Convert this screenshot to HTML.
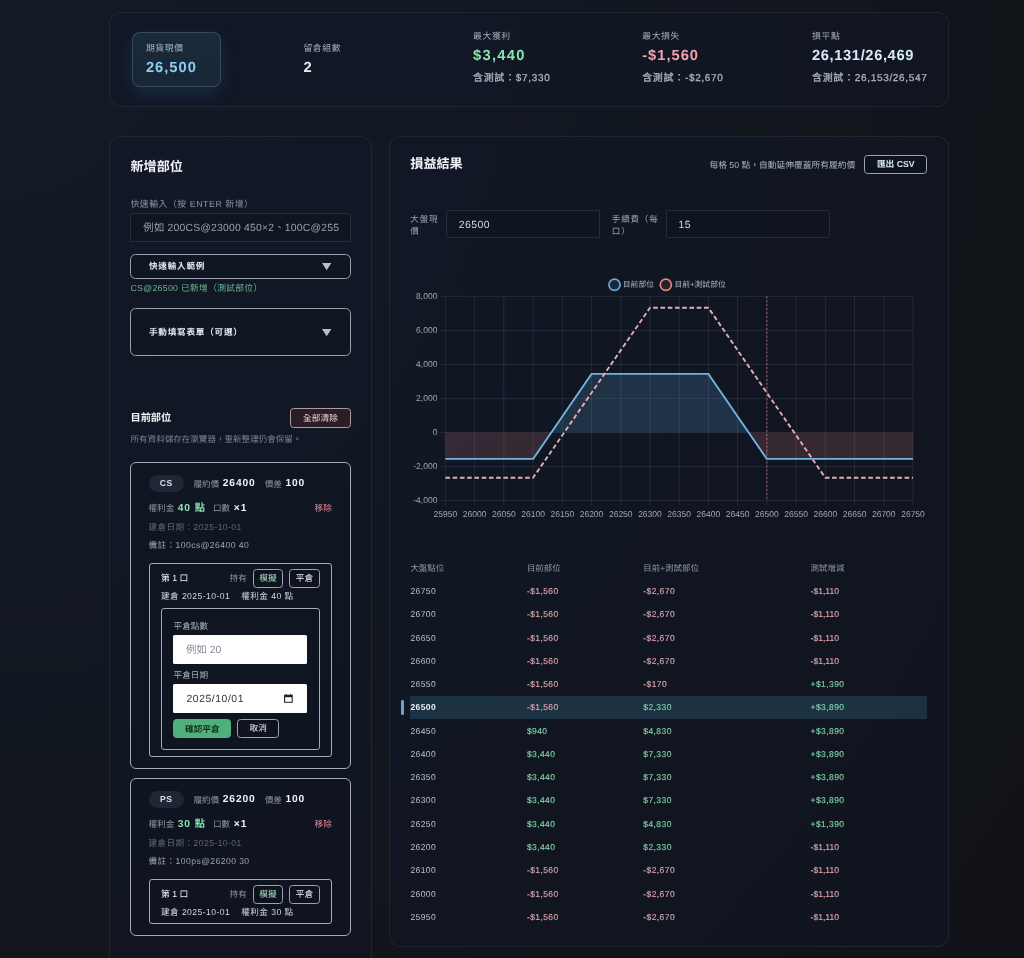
<!DOCTYPE html>
<html lang="zh-Hant"><head><meta charset="utf-8"><title>選擇權損益試算</title>
<style>
*{box-sizing:border-box;margin:0;padding:0}
html,body{width:1024px;height:958px;overflow:hidden}
body{font-family:"Liberation Sans","Noto Sans CJK TC",sans-serif;color:#e6ebf2;background:#101217;text-rendering:geometricPrecision;
 background-image:radial-gradient(ellipse 1300px 1500px at 0% 0%,#151b26 0%,#121822 38%,#111419 80%,#101217 100%)}
#page{position:absolute;left:0;top:0;width:1024px;height:958px;overflow:hidden;will-change:transform}
.b{position:absolute}
.t{position:absolute;white-space:nowrap}
.panel{background:rgba(15,22,37,0.5);border:1px solid rgba(148,163,184,0.115);border-radius:12px}
.hl{border-radius:8px;border:1px solid rgba(120,170,215,0.27);background:linear-gradient(180deg,#1b2a3a,#182636);box-shadow:0 6px 18px rgba(45,95,160,0.28)}
.lab{font-size:8.85px;color:#a3abb8;letter-spacing:0.6px}
.val{font-size:14.7px;font-weight:bold;letter-spacing:1.0px;height:20px!important;line-height:20px!important;margin-top:-3px}
.sub{font-size:10px;color:#a9b1bd;letter-spacing:0.68px;-webkit-text-stroke:0.3px}
.h2{font-size:13.1px;color:#f1f4f8;font-weight:bold}
.h3{font-size:10.2px;color:#f1f4f8;font-weight:bold}
.flab{font-size:8.9px;color:#8d96a5;letter-spacing:0.5px}
.flab2{font-size:8.5px;color:#9aa3b0;letter-spacing:0.85px}
.inp{border:1px solid rgba(150,165,190,0.17);border-radius:2px;background:rgba(14,19,29,0.35)}
.ph{font-size:10.4px;color:#99a0ac;letter-spacing:0.2px}
.ival{font-size:10.4px;color:#d5dae3;letter-spacing:0.5px}
.sel{border:1px solid #9aa2b0;border-radius:5.5px;background:rgba(12,17,26,0.15)}
.sell{font-size:8.6px;color:#e6ebf2;font-weight:bold}
.sell .k{letter-spacing:0.09em}
.ok{font-size:8.75px;color:#6db58f;letter-spacing:0.3px}
.hint{font-size:8.55px;color:#7a8392}
.btn{border:1px solid #9ca4b1;border-radius:3.5px;background:rgba(12,17,26,0.3)}
.bt{text-align:center;font-size:8.7px;color:#e9edf3;white-space:nowrap}
.danger{background:#2a1d25;border-color:#a99da5}
.danger .bt{color:#f1d3d7}
.go{background:#4fb07c;border-color:#4fb07c}
.go .bt{color:#12301f;font-weight:bold}
.card{border:1px solid #a4abb8;border-radius:6px;background:rgba(13,18,28,0.2)}
.pill{border-radius:9px;background:#1f2736}
.pill .bt{font-weight:bold;color:#d9dfe9;letter-spacing:0.6px;font-size:8.6px}
.mut{font-size:8.6px;color:#8d96a5}
.num{font-size:10.2px;font-weight:bold;color:#f1f4f8;letter-spacing:0.9px}
.rm{font-size:8.7px;color:#e08594}
.dim{font-size:8.6px;color:#5e6776;letter-spacing:0.42px}
.note{font-size:8.6px;color:#9ba4b2;letter-spacing:0.43px}
.lot{border:1px solid #a4abb8;border-radius:3px}
.lt{font-size:8.8px;color:#eef1f6}
.lt2{font-size:8.6px;color:#d3d9e2;letter-spacing:0.43px}
.fl2{font-size:8.6px;color:#a9b1be}
.winp{background:#fff;border-radius:1.5px}
.wph{font-size:10.4px;color:#858b96}
.wval{font-size:10.4px;color:#333;letter-spacing:0.55px}
.rhint{font-size:8.75px;color:#aab2bf}
.leg{font-size:7.8px;color:#b3b9c3}
.ax{font-size:8.5px;color:#a4a9b3}
.th{font-size:8.45px;color:#9199a7}
.td{font-size:8.5px;letter-spacing:0.42px}
.neg,.pos{-webkit-text-stroke:0.15px}
.neg{color:#d9a4ae}
.pos{color:#7fcea3}
.hlrow{background:#1c3141}

</style></head>
<body>
<div id="page">
<div class="b panel" style="left:109.00px;top:12.00px;width:839.50px;height:95.00px;"></div>
<div class="b hl" style="left:132.00px;top:32.00px;width:89.00px;height:55.00px;"></div>
<div class="t lab" style="left:145.90px;top:40.70px;height:14px;line-height:14px;color:#9fb1c6"><span class="k">期貨現價</span></div>
<div class="t val" style="left:145.90px;top:60.60px;height:14px;line-height:14px;color:#8ccdf3">26,500</div>
<div class="t lab" style="left:303.40px;top:41.20px;height:14px;line-height:14px;"><span class="k">留倉組數</span></div>
<div class="t val" style="left:303.40px;top:60.90px;height:14px;line-height:14px;color:#e8edf5">2</div>
<div class="t lab" style="left:473.00px;top:29.20px;height:14px;line-height:14px;"><span class="k">最大獲利</span></div>
<div class="t val" style="left:473.00px;top:48.60px;height:14px;line-height:14px;color:#8be3ae;letter-spacing:1.30px">$3,440</div>
<div class="t sub" style="left:473.00px;top:72.20px;height:14px;line-height:14px;"><span class="k">含測試：</span>$7,330</div>
<div class="t lab" style="left:642.20px;top:29.20px;height:14px;line-height:14px;"><span class="k">最大損失</span></div>
<div class="t val" style="left:642.20px;top:48.60px;height:14px;line-height:14px;color:#f2a3ad;letter-spacing:1.00px">-$1,560</div>
<div class="t sub" style="left:642.20px;top:72.20px;height:14px;line-height:14px;"><span class="k">含測試：</span>-$2,670</div>
<div class="t lab" style="left:812.00px;top:29.20px;height:14px;line-height:14px;"><span class="k">損平點</span></div>
<div class="t val" style="left:812.00px;top:48.60px;height:14px;line-height:14px;color:#d6eafa;letter-spacing:0.62px">26,131/26,469</div>
<div class="t sub" style="left:812.00px;top:72.20px;height:14px;line-height:14px;"><span class="k">含測試：</span>26,153/26,547</div>
<div class="b panel" style="left:109.00px;top:136.00px;width:262.50px;height:874.00px;"></div>
<div class="t h2" style="left:130.50px;top:157.10px;height:20px;line-height:20px;"><span class="k">新增部位</span></div>
<div class="t flab" style="left:130.50px;top:196.70px;height:14px;line-height:14px;"><span class="k">快速輸入（按</span> ENTER <span class="k">新增）</span></div>
<div class="b inp" style="left:129.60px;top:213.40px;width:221.80px;height:28.20px;"></div>
<div class="t ph" style="left:143.30px;top:222.30px;height:14px;line-height:14px;"><span class="k">例如</span> 200CS@23000 450×2<span class="k">、</span>100C@255</div>
<div class="b sel" style="left:130.00px;top:254.20px;width:221.00px;height:24.40px;"></div>
<div class="t sell" style="left:149.00px;top:259.20px;height:14px;line-height:14px;"><span class="k">快速輸入範例</span></div>
<svg class="b" style="left:322.3px;top:262.90px;width:9.4px;height:7.3px" viewBox="0 0 94 73"><path d="M0 0H94L47 73Z" fill="#b9c0cc"/></svg>
<div class="t ok" style="left:130.50px;top:280.70px;height:14px;line-height:14px;">CS@26500 <span class="k">已新增（測試部位）</span></div>
<div class="b sel" style="left:130.00px;top:308.30px;width:221.00px;height:47.50px;"></div>
<div class="t sell" style="left:149.00px;top:324.85px;height:14px;line-height:14px;"><span class="k">手動填寫表單（可選）</span></div>
<svg class="b" style="left:322.3px;top:328.55px;width:9.4px;height:7.3px" viewBox="0 0 94 73"><path d="M0 0H94L47 73Z" fill="#b9c0cc"/></svg>
<div class="t h3" style="left:130.50px;top:410.70px;height:16px;line-height:16px;"><span class="k">目前部位</span></div>
<div class="b btn danger" style="left:290.10px;top:408.00px;width:60.70px;height:19.60px;"><div class="bt" style="line-height:19.2px"><span class="k">全部清除</span></div></div>
<div class="t hint" style="left:130.50px;top:432.30px;height:14px;line-height:14px;"><span class="k">所有資料儲存在瀏覽器，重新整理仍會保留。</span></div>
<div class="b card" style="left:130.20px;top:462.30px;width:220.60px;height:306.90px;"></div>
<div class="b pill" style="left:148.50px;top:474.70px;width:35.50px;height:17.30px;"><div class="bt" style="line-height:17.3px">CS</div></div>
<div class="t mut" style="left:193.40px;top:476.50px;height:14px;line-height:14px;"><span class="k">履約價</span></div>
<div class="t num" style="left:222.80px;top:477.10px;height:14px;line-height:14px;">26400</div>
<div class="t mut" style="left:264.70px;top:476.50px;height:14px;line-height:14px;"><span class="k">價差</span></div>
<div class="t num" style="left:285.40px;top:477.10px;height:14px;line-height:14px;">100</div>
<div class="t mut" style="left:148.50px;top:501.00px;height:14px;line-height:14px;"><span class="k">權利金</span></div>
<div class="t num" style="left:177.80px;top:501.60px;height:14px;line-height:14px;color:#8be3ae">40 <span class="k">點</span></div>
<div class="t mut" style="left:213.00px;top:501.00px;height:14px;line-height:14px;"><span class="k">口數</span></div>
<div class="t num" style="left:233.80px;top:501.60px;height:14px;line-height:14px;">×1</div>
<div class="t rm" style="left:314.60px;top:501.00px;height:14px;line-height:14px;"><span class="k">移除</span></div>
<div class="t dim" style="left:148.50px;top:520.00px;height:14px;line-height:14px;"><span class="k">建倉日期：</span>2025-10-01</div>
<div class="t note" style="left:148.50px;top:537.60px;height:14px;line-height:14px;"><span class="k">備註：</span>100cs@26400 40</div>
<div class="b lot" style="left:148.50px;top:562.60px;width:183.40px;height:194.30px;"></div>
<div class="t lt" style="left:161.00px;top:570.90px;height:14px;line-height:14px;"><span class="k">第</span> 1 <span class="k">口</span></div>
<div class="t mut" style="left:229.60px;top:570.90px;height:14px;line-height:14px;"><span class="k">持有</span></div>
<div class="b btn" style="left:252.80px;top:568.50px;width:30.50px;height:19.10px;"><div class="bt" style="line-height:17.1px;color:#a3e0ba"><span class="k">模擬</span></div></div>
<div class="b btn" style="left:289.00px;top:568.50px;width:30.80px;height:19.10px;"><div class="bt" style="line-height:17.1px"><span class="k">平倉</span></div></div>
<div class="t lt2" style="left:161.00px;top:589.20px;height:14px;line-height:14px;"><span class="k">建倉</span> 2025-10-01</div>
<div class="t lt2" style="left:241.30px;top:589.20px;height:14px;line-height:14px;"><span class="k">權利金</span> 40 <span class="k">點</span></div>
<div class="b lot" style="left:161.00px;top:608.40px;width:159.10px;height:141.80px;"></div>
<div class="t fl2" style="left:173.60px;top:619.10px;height:14px;line-height:14px;"><span class="k">平倉點數</span></div>
<div class="b winp" style="left:173.20px;top:635.00px;width:134.30px;height:28.80px;"></div>
<div class="t wph" style="left:186.00px;top:644.00px;height:14px;line-height:14px;"><span class="k">例如</span> 20</div>
<div class="t fl2" style="left:173.60px;top:668.40px;height:14px;line-height:14px;"><span class="k">平倉日期</span></div>
<div class="b winp" style="left:173.20px;top:684.40px;width:134.30px;height:28.70px;"></div>
<div class="t wval" style="left:186.50px;top:692.80px;height:14px;line-height:14px;">2025/10/01</div>
<svg class="b" style="left:284.1px;top:694.4px;width:8.8px;height:8.8px" viewBox="0 0 88 88"><path d="M6 14H82V82H6Z" fill="none" stroke="#222" stroke-width="11"/><path d="M6 10H82V32H6Z" fill="#222"/><path d="M22 0V14M66 0V14" stroke="#222" stroke-width="10"/></svg>
<div class="b btn go" style="left:173.20px;top:719.30px;width:58.30px;height:18.70px;"><div class="bt" style="line-height:18.7px"><span class="k">確認平倉</span></div></div>
<div class="b btn" style="left:237.20px;top:719.30px;width:42.20px;height:18.70px;"><div class="bt" style="line-height:16.7px"><span class="k">取消</span></div></div>
<div class="b card" style="left:130.20px;top:778.40px;width:220.60px;height:158.10px;"></div>
<div class="b pill" style="left:148.50px;top:790.80px;width:35.50px;height:17.30px;"><div class="bt" style="line-height:17.3px">PS</div></div>
<div class="t mut" style="left:193.40px;top:792.60px;height:14px;line-height:14px;"><span class="k">履約價</span></div>
<div class="t num" style="left:222.80px;top:793.20px;height:14px;line-height:14px;">26200</div>
<div class="t mut" style="left:264.70px;top:792.60px;height:14px;line-height:14px;"><span class="k">價差</span></div>
<div class="t num" style="left:285.40px;top:793.20px;height:14px;line-height:14px;">100</div>
<div class="t mut" style="left:148.50px;top:817.10px;height:14px;line-height:14px;"><span class="k">權利金</span></div>
<div class="t num" style="left:177.80px;top:817.70px;height:14px;line-height:14px;color:#8be3ae">30 <span class="k">點</span></div>
<div class="t mut" style="left:213.00px;top:817.10px;height:14px;line-height:14px;"><span class="k">口數</span></div>
<div class="t num" style="left:233.80px;top:817.70px;height:14px;line-height:14px;">×1</div>
<div class="t rm" style="left:314.60px;top:817.10px;height:14px;line-height:14px;"><span class="k">移除</span></div>
<div class="t dim" style="left:148.50px;top:836.10px;height:14px;line-height:14px;"><span class="k">建倉日期：</span>2025-10-01</div>
<div class="t note" style="left:148.50px;top:853.70px;height:14px;line-height:14px;"><span class="k">備註：</span>100ps@26200 30</div>
<div class="b lot" style="left:148.50px;top:878.70px;width:183.40px;height:45.50px;"></div>
<div class="t lt" style="left:161.00px;top:887.00px;height:14px;line-height:14px;"><span class="k">第</span> 1 <span class="k">口</span></div>
<div class="t mut" style="left:229.60px;top:887.00px;height:14px;line-height:14px;"><span class="k">持有</span></div>
<div class="b btn" style="left:252.80px;top:884.60px;width:30.50px;height:19.10px;"><div class="bt" style="line-height:17.1px;color:#a3e0ba"><span class="k">模擬</span></div></div>
<div class="b btn" style="left:289.00px;top:884.60px;width:30.80px;height:19.10px;"><div class="bt" style="line-height:17.1px"><span class="k">平倉</span></div></div>
<div class="t lt2" style="left:161.00px;top:905.30px;height:14px;line-height:14px;"><span class="k">建倉</span> 2025-10-01</div>
<div class="t lt2" style="left:241.30px;top:905.30px;height:14px;line-height:14px;"><span class="k">權利金</span> 30 <span class="k">點</span></div>
<div class="b panel" style="left:389.00px;top:136.00px;width:559.50px;height:811.00px;"></div>
<div class="t h2" style="left:410.30px;top:154.20px;height:20px;line-height:20px;"><span class="k">損益結果</span></div>
<div class="t rhint" style="left:709.40px;top:157.60px;height:14px;line-height:14px;"><span class="k">每格</span> 50 <span class="k">點，自動延伸覆蓋所有履約價</span></div>
<div class="b btn" style="left:864.10px;top:155.00px;width:63.30px;height:18.90px;"><div class="bt" style="line-height:16.9px;color:#d4e6f4;font-weight:bold"><span class="k">匯出</span> CSV</div></div>
<div class="t flab2" style="left:410.30px;top:211.90px;height:14px;line-height:14px;"><span class="k">大盤現</span></div>
<div class="t flab2" style="left:410.30px;top:223.60px;height:14px;line-height:14px;"><span class="k">價</span></div>
<div class="b inp" style="left:445.80px;top:209.50px;width:154.20px;height:28.50px;"></div>
<div class="t ival" style="left:458.70px;top:219.10px;height:14px;line-height:14px;">26500</div>
<div class="t flab2" style="left:611.80px;top:211.90px;height:14px;line-height:14px;"><span class="k">手續費（每</span></div>
<div class="t flab2" style="left:611.80px;top:223.60px;height:14px;line-height:14px;"><span class="k">口）</span></div>
<div class="b inp" style="left:665.50px;top:209.50px;width:164.80px;height:28.50px;"></div>
<div class="t ival" style="left:678.60px;top:219.10px;height:14px;line-height:14px;">15</div>
<svg class="b" style="left:0;top:0;width:1024px;height:958px" viewBox="0 0 1024 958"><path d="M445.40 296.40V505.60M474.62 296.40V505.60M503.85 296.40V505.60M533.08 296.40V505.60M562.30 296.40V505.60M591.52 296.40V505.60M620.75 296.40V505.60M649.98 296.40V505.60M679.20 296.40V505.60M708.42 296.40V505.60M737.65 296.40V505.60M766.88 296.40V505.60M796.10 296.40V505.60M825.33 296.40V505.60M854.55 296.40V505.60M883.77 296.40V505.60M913.00 296.40V505.60M440.20 500.40H913.00M440.20 466.40H913.00M440.20 432.40H913.00M440.20 398.40H913.00M440.20 364.40H913.00M440.20 330.40H913.00M440.20 296.40H913.00" stroke="#a3abb8" stroke-opacity="0.2" stroke-width="0.7" fill="none"/><path d="M445.40 432.40L445.40 458.92L533.08 458.92L551.31 432.40Z" fill="#f08a8a" fill-opacity="0.17"/><path d="M748.64 432.40L766.88 458.92L913.00 458.92L913.00 432.40Z" fill="#f08a8a" fill-opacity="0.17"/><path d="M551.31 432.40L591.52 373.92L708.42 373.92L748.64 432.40Z" fill="#63b3ed" fill-opacity="0.18"/><path d="M766.88 296.40V500.40" stroke="#e8808f" stroke-opacity="0.9" stroke-width="0.75" stroke-dasharray="2 1.93" fill="none"/><path d="M445.40 458.92L533.08 458.92L591.52 373.92L708.42 373.92L766.88 458.92L913.00 458.92" stroke="#72b4e0" stroke-width="1.9" fill="none" stroke-linejoin="round"/><path d="M445.40 477.79L533.08 477.79L649.98 307.79L708.42 307.79L825.33 477.79L913.00 477.79" stroke="#e3aeb1" stroke-width="1.9" stroke-dasharray="4.6 2.65" fill="none" stroke-linejoin="round"/><circle cx="614.5" cy="284.8" r="5.6" fill="#63b3ed" fill-opacity="0.12" stroke="#68a9da" stroke-width="1.7"/><circle cx="665.8" cy="284.8" r="5.6" fill="#f08a8a" fill-opacity="0.1" stroke="#e2887e" stroke-width="1.7"/></svg>
<div class="t leg" style="left:622.80px;top:277.80px;height:14px;line-height:14px;"><span class="k">目前部位</span></div>
<div class="t leg" style="left:674.40px;top:277.80px;height:14px;line-height:14px;"><span class="k">目前</span>+<span class="k">測試部位</span></div>
<div class="t ax" style="left:137.40px;width:300.00px;text-align:right;top:493.10px;height:14px;line-height:14px;">-4,000</div>
<div class="t ax" style="left:137.40px;width:300.00px;text-align:right;top:459.10px;height:14px;line-height:14px;">-2,000</div>
<div class="t ax" style="left:137.40px;width:300.00px;text-align:right;top:425.10px;height:14px;line-height:14px;">0</div>
<div class="t ax" style="left:137.40px;width:300.00px;text-align:right;top:391.10px;height:14px;line-height:14px;">2,000</div>
<div class="t ax" style="left:137.40px;width:300.00px;text-align:right;top:357.10px;height:14px;line-height:14px;">4,000</div>
<div class="t ax" style="left:137.40px;width:300.00px;text-align:right;top:323.10px;height:14px;line-height:14px;">6,000</div>
<div class="t ax" style="left:137.40px;width:300.00px;text-align:right;top:289.10px;height:14px;line-height:14px;">8,000</div>
<div class="t ax" style="left:295.40px;width:300.00px;text-align:center;top:506.50px;height:14px;line-height:14px;">25950</div>
<div class="t ax" style="left:324.62px;width:300.00px;text-align:center;top:506.50px;height:14px;line-height:14px;">26000</div>
<div class="t ax" style="left:353.85px;width:300.00px;text-align:center;top:506.50px;height:14px;line-height:14px;">26050</div>
<div class="t ax" style="left:383.08px;width:300.00px;text-align:center;top:506.50px;height:14px;line-height:14px;">26100</div>
<div class="t ax" style="left:412.30px;width:300.00px;text-align:center;top:506.50px;height:14px;line-height:14px;">26150</div>
<div class="t ax" style="left:441.52px;width:300.00px;text-align:center;top:506.50px;height:14px;line-height:14px;">26200</div>
<div class="t ax" style="left:470.75px;width:300.00px;text-align:center;top:506.50px;height:14px;line-height:14px;">26250</div>
<div class="t ax" style="left:499.98px;width:300.00px;text-align:center;top:506.50px;height:14px;line-height:14px;">26300</div>
<div class="t ax" style="left:529.20px;width:300.00px;text-align:center;top:506.50px;height:14px;line-height:14px;">26350</div>
<div class="t ax" style="left:558.42px;width:300.00px;text-align:center;top:506.50px;height:14px;line-height:14px;">26400</div>
<div class="t ax" style="left:587.65px;width:300.00px;text-align:center;top:506.50px;height:14px;line-height:14px;">26450</div>
<div class="t ax" style="left:616.88px;width:300.00px;text-align:center;top:506.50px;height:14px;line-height:14px;">26500</div>
<div class="t ax" style="left:646.10px;width:300.00px;text-align:center;top:506.50px;height:14px;line-height:14px;">26550</div>
<div class="t ax" style="left:675.33px;width:300.00px;text-align:center;top:506.50px;height:14px;line-height:14px;">26600</div>
<div class="t ax" style="left:704.55px;width:300.00px;text-align:center;top:506.50px;height:14px;line-height:14px;">26650</div>
<div class="t ax" style="left:733.77px;width:300.00px;text-align:center;top:506.50px;height:14px;line-height:14px;">26700</div>
<div class="t ax" style="left:763.00px;width:300.00px;text-align:center;top:506.50px;height:14px;line-height:14px;">26750</div>
<div class="t th" style="left:410.40px;top:560.80px;height:14px;line-height:14px;"><span class="k">大盤點位</span></div>
<div class="t th" style="left:526.90px;top:560.80px;height:14px;line-height:14px;"><span class="k">目前部位</span></div>
<div class="t th" style="left:643.30px;top:560.80px;height:14px;line-height:14px;"><span class="k">目前</span>+<span class="k">測試部位</span></div>
<div class="t th" style="left:810.60px;top:560.80px;height:14px;line-height:14px;"><span class="k">測試增減</span></div>
<div class="t td" style="left:410.40px;top:584.00px;height:14px;line-height:14px;color:#bcc3ce">26750</div>
<div class="t td neg" style="left:526.90px;top:584.00px;height:14px;line-height:14px;">-$1,560</div>
<div class="t td neg" style="left:643.30px;top:584.00px;height:14px;line-height:14px;">-$2,670</div>
<div class="t td neg" style="left:810.60px;top:584.00px;height:14px;line-height:14px;letter-spacing:0.02px">-$1,110</div>
<div class="t td" style="left:410.40px;top:607.27px;height:14px;line-height:14px;color:#bcc3ce">26700</div>
<div class="t td neg" style="left:526.90px;top:607.27px;height:14px;line-height:14px;">-$1,560</div>
<div class="t td neg" style="left:643.30px;top:607.27px;height:14px;line-height:14px;">-$2,670</div>
<div class="t td neg" style="left:810.60px;top:607.27px;height:14px;line-height:14px;letter-spacing:0.02px">-$1,110</div>
<div class="t td" style="left:410.40px;top:630.54px;height:14px;line-height:14px;color:#bcc3ce">26650</div>
<div class="t td neg" style="left:526.90px;top:630.54px;height:14px;line-height:14px;">-$1,560</div>
<div class="t td neg" style="left:643.30px;top:630.54px;height:14px;line-height:14px;">-$2,670</div>
<div class="t td neg" style="left:810.60px;top:630.54px;height:14px;line-height:14px;letter-spacing:0.02px">-$1,110</div>
<div class="t td" style="left:410.40px;top:653.81px;height:14px;line-height:14px;color:#bcc3ce">26600</div>
<div class="t td neg" style="left:526.90px;top:653.81px;height:14px;line-height:14px;">-$1,560</div>
<div class="t td neg" style="left:643.30px;top:653.81px;height:14px;line-height:14px;">-$2,670</div>
<div class="t td neg" style="left:810.60px;top:653.81px;height:14px;line-height:14px;letter-spacing:0.02px">-$1,110</div>
<div class="t td" style="left:410.40px;top:677.08px;height:14px;line-height:14px;color:#bcc3ce">26550</div>
<div class="t td neg" style="left:526.90px;top:677.08px;height:14px;line-height:14px;">-$1,560</div>
<div class="t td neg" style="left:643.30px;top:677.08px;height:14px;line-height:14px;">-$170</div>
<div class="t td pos" style="left:810.60px;top:677.08px;height:14px;line-height:14px;">+$1,390</div>
<div class="b hlrow" style="left:409.80px;top:696.20px;width:517.60px;height:22.80px;"></div>
<div class="b " style="left:401.00px;top:700.20px;width:2.60px;height:14.40px;background:#6f9fcb;border-radius:1.3px"></div>
<div class="t td" style="left:410.40px;top:700.35px;height:14px;line-height:14px;color:#f2f5f9;font-weight:bold">26500</div>
<div class="t td neg" style="left:526.90px;top:700.35px;height:14px;line-height:14px;">-$1,560</div>
<div class="t td pos" style="left:643.30px;top:700.35px;height:14px;line-height:14px;">$2,330</div>
<div class="t td pos" style="left:810.60px;top:700.35px;height:14px;line-height:14px;">+$3,890</div>
<div class="t td" style="left:410.40px;top:723.62px;height:14px;line-height:14px;color:#bcc3ce">26450</div>
<div class="t td pos" style="left:526.90px;top:723.62px;height:14px;line-height:14px;">$940</div>
<div class="t td pos" style="left:643.30px;top:723.62px;height:14px;line-height:14px;">$4,830</div>
<div class="t td pos" style="left:810.60px;top:723.62px;height:14px;line-height:14px;">+$3,890</div>
<div class="t td" style="left:410.40px;top:746.89px;height:14px;line-height:14px;color:#bcc3ce">26400</div>
<div class="t td pos" style="left:526.90px;top:746.89px;height:14px;line-height:14px;">$3,440</div>
<div class="t td pos" style="left:643.30px;top:746.89px;height:14px;line-height:14px;">$7,330</div>
<div class="t td pos" style="left:810.60px;top:746.89px;height:14px;line-height:14px;">+$3,890</div>
<div class="t td" style="left:410.40px;top:770.16px;height:14px;line-height:14px;color:#bcc3ce">26350</div>
<div class="t td pos" style="left:526.90px;top:770.16px;height:14px;line-height:14px;">$3,440</div>
<div class="t td pos" style="left:643.30px;top:770.16px;height:14px;line-height:14px;">$7,330</div>
<div class="t td pos" style="left:810.60px;top:770.16px;height:14px;line-height:14px;">+$3,890</div>
<div class="t td" style="left:410.40px;top:793.43px;height:14px;line-height:14px;color:#bcc3ce">26300</div>
<div class="t td pos" style="left:526.90px;top:793.43px;height:14px;line-height:14px;">$3,440</div>
<div class="t td pos" style="left:643.30px;top:793.43px;height:14px;line-height:14px;">$7,330</div>
<div class="t td pos" style="left:810.60px;top:793.43px;height:14px;line-height:14px;">+$3,890</div>
<div class="t td" style="left:410.40px;top:816.70px;height:14px;line-height:14px;color:#bcc3ce">26250</div>
<div class="t td pos" style="left:526.90px;top:816.70px;height:14px;line-height:14px;">$3,440</div>
<div class="t td pos" style="left:643.30px;top:816.70px;height:14px;line-height:14px;">$4,830</div>
<div class="t td pos" style="left:810.60px;top:816.70px;height:14px;line-height:14px;">+$1,390</div>
<div class="t td" style="left:410.40px;top:839.97px;height:14px;line-height:14px;color:#bcc3ce">26200</div>
<div class="t td pos" style="left:526.90px;top:839.97px;height:14px;line-height:14px;">$3,440</div>
<div class="t td pos" style="left:643.30px;top:839.97px;height:14px;line-height:14px;">$2,330</div>
<div class="t td neg" style="left:810.60px;top:839.97px;height:14px;line-height:14px;letter-spacing:0.02px">-$1,110</div>
<div class="t td" style="left:410.40px;top:863.24px;height:14px;line-height:14px;color:#bcc3ce">26100</div>
<div class="t td neg" style="left:526.90px;top:863.24px;height:14px;line-height:14px;">-$1,560</div>
<div class="t td neg" style="left:643.30px;top:863.24px;height:14px;line-height:14px;">-$2,670</div>
<div class="t td neg" style="left:810.60px;top:863.24px;height:14px;line-height:14px;letter-spacing:0.02px">-$1,110</div>
<div class="t td" style="left:410.40px;top:886.51px;height:14px;line-height:14px;color:#bcc3ce">26000</div>
<div class="t td neg" style="left:526.90px;top:886.51px;height:14px;line-height:14px;">-$1,560</div>
<div class="t td neg" style="left:643.30px;top:886.51px;height:14px;line-height:14px;">-$2,670</div>
<div class="t td neg" style="left:810.60px;top:886.51px;height:14px;line-height:14px;letter-spacing:0.02px">-$1,110</div>
<div class="t td" style="left:410.40px;top:909.78px;height:14px;line-height:14px;color:#bcc3ce">25950</div>
<div class="t td neg" style="left:526.90px;top:909.78px;height:14px;line-height:14px;">-$1,560</div>
<div class="t td neg" style="left:643.30px;top:909.78px;height:14px;line-height:14px;">-$2,670</div>
<div class="t td neg" style="left:810.60px;top:909.78px;height:14px;line-height:14px;letter-spacing:0.02px">-$1,110</div>
</div>
</body></html>
